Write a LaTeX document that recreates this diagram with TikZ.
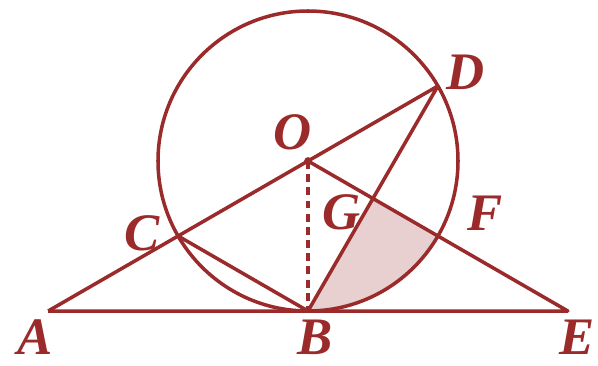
\documentclass[tikz,border=0pt]{standalone}
\usepackage{fontspec}
\setmainfont{Liberation Serif}
\usetikzlibrary{calc, positioning}
\usetikzlibrary{intersections}

\definecolor{darkred}{RGB}{155,42,42}
\definecolor{shadepink}{RGB}{232,208,208}

\begin{document}
\begin{tikzpicture}[x=1cm,y=1cm,
    lbl/.style={font=\fontsize{30}{34}\selectfont\bfseries\itshape, text=darkred, inner sep=0pt}]
\pgfmathsetmacro{\rad}{3}
\pgfmathsetmacro{\half}{2*\rad*cos(30)}
\useasboundingbox (-6.16,-4.08) rectangle (5.8,3.22);

\coordinate (O) at (0,0);
\coordinate (A) at (-\half,-\rad);
\coordinate (E) at (\half,-\rad);
\coordinate (B) at (0,-\rad);
\coordinate (C) at (210:\rad);
\coordinate (D) at (30:\rad);
\coordinate (F) at (-30:\rad);
\path[name path=od] (O) -- (E);
\path[name path=bd] (B) -- (D);
\path[name intersections={of=od and bd, by=G}];

% shaded piece
\fill[shadepink] (G) -- (F) arc[start angle=-30, end angle=-90, radius=\rad] -- cycle;

\draw[darkred, line width=2pt] (O) circle[radius=\rad];
\draw[darkred, line width=2pt, line join=round] (A) -- (E) -- (O) -- (D) -- (B) -- (C);
\draw[darkred, line width=2pt] (A) -- (O);
\draw[darkred, line width=2pt, dash pattern=on 4.5pt off 3pt] (O) -- (B);
\fill[darkred] (O) circle[radius=2.2pt];

\node[lbl] (lA) at (-5.46,-3.52) {A};
\node[lbl] (lB) at (0.14,-3.52) {B};
\node[lbl] (lE) at (5.38,-3.52) {E};
\node[lbl] (lC) at (-3.32,-1.44) {C};
\node[lbl] (lO) at (-0.3,0.58) {O};
\node[lbl] (lG) at (0.68,-1.02) {G};
\node[lbl] (lF) at (3.54,-1.04) {F};
\node[lbl] (lD) at (3.16,1.78) {D};
\end{tikzpicture}
\end{document}
